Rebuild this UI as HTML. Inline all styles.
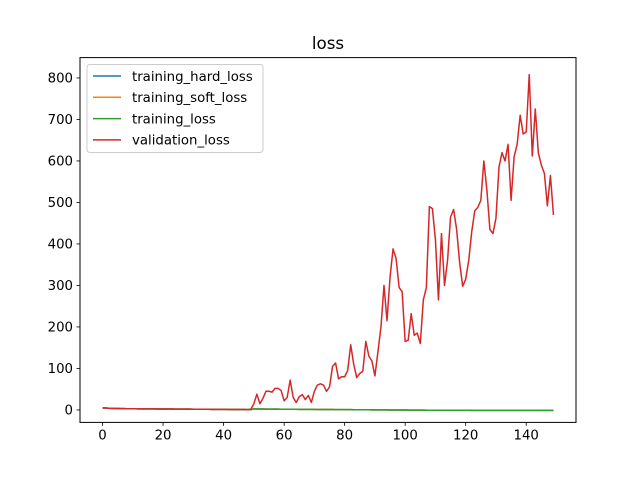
<!DOCTYPE html>
<html><head><meta charset="utf-8"><style>
body{margin:0;background:#fff}
svg{display:block;font-family:"DejaVu Sans","Liberation Sans",sans-serif}
</style></head><body>
<svg id="chart" width="640" height="480">
<rect width="640" height="480" fill="#fff"/>
<text x="328" y="49" font-size="16.7" text-anchor="middle">loss</text>
<g id="grid"></g>
<g id="lines"></g>
<rect x="80" y="57.6" width="496" height="364.8" fill="none" stroke="#000" stroke-width="1"/>
<g id="legend"></g>
</svg>
<script>
const trainingLoss = [
5,4.6,4.2,3.9,3.6,3.4,3.2,3.1,3,2.9,
2.8,2.75,2.7,2.65,2.6,2.55,2.5,2.45,2.4,2.35,
2.3,2.25,2.2,2.15,2.1,2.05,2,1.95,1.9,1.85,
1.8,1.75,1.7,1.65,1.6,1.55,1.5,1.45,1.4,1.35,
1.3,1.25,1.2,1.15,1.1,1.05,1,0.95,0.9,0.85,
2.5,2.4,2.3,2.2,2.1,2,1.95,1.9,1.85,1.8,
1.75,1.7,1.65,1.6,1.55,1.5,1.45,1.4,1.35,1.3,
1.25,1.2,1.15,1.1,1.05,1,0.95,0.9,0.85,0.8,
0.75,0.7,0.65,0.6,0.55,0.5,0.45,0.4,0.35,0.3,
0.25,0.2,0.15,0.1,0.05,0,-0.05,-0.1,-0.15,-0.2,
-0.25,-0.3,-0.35,-0.4,-0.45,-0.5,-0.55,-0.6,-0.62,-0.64,
-0.66,-0.68,-0.7,-0.72,-0.74,-0.76,-0.78,-0.8,-0.82,-0.84,
-0.86,-0.88,-0.9,-0.92,-0.94,-0.96,-0.98,-1,-1,-1,
-1,-1,-1,-1,-1,-1,-1,-1,-1,-1,
-1,-1,-1,-1,-1,-1,-1,-1,-1,-1];
const hardLoss = trainingLoss.slice();
const softLoss = trainingLoss.slice();
const validationLoss = [5,4.6,4.2,3.9,3.6,3.4,3.2,3.1,3,2.9,2.8,2.75,2.7,2.65,2.6,2.55,2.5,2.45,2.4,2.35,2.3,2.25,2.2,2.15,2.1,2.05,2,1.95,1.9,1.85,1.8,1.75,1.7,1.65,1.6,1.55,1.5,1.45,1.4,1.35,1.3,1.25,1.2,1.15,1.1,1.05,1,0.95,0.5,2,
15,38,15,28,45,45,43,52,52,47,22,30,72,30,18,32,37,25,35,18,45,60,63,60,45,55,105,113,75,80,80,95,157,110,78,88,93,165,130,118,82,140,200,300,215,320,388,365,295,285,165,168,232,180,185,160,265,295,490,485,410,265,425,300,360,465,483,435,355,298,315,360,430,480,488,505,600,530,435,425,462,585,620,600,640,505,610,640,710,665,670,808,612,725,620,590,570,492,565,470];
const xTicks = [0,20,40,60,80,100,120,140];
const yTicks = [0,100,200,300,400,500,600,700,800];
const seriesNames = ["training_hard_loss","training_soft_loss","training_loss","validation_loss"];
const seriesColors = ["#1f77b4","#ff7f0e","#2ca02c","#d62728"];

const NS="http://www.w3.org/2000/svg";
const X0=80,X1=576,Y0=57.6,Y1=422.4;
const xmin=-7.45,xmax=156.45,ymin=-30,ymax=849;
const xs=v=>X0+(v-xmin)/(xmax-xmin)*(X1-X0);
const ys=v=>Y1-(v-ymin)/(ymax-ymin)*(Y1-Y0);
function mk(t,a,p){const e=document.createElementNS(NS,t);for(const k in a)e.setAttribute(k,a[k]);p.appendChild(e);return e;}
const grid=document.getElementById('grid');
xTicks.forEach(t=>{
  const x=xs(t);
  const l=mk('line',{x1:x,x2:x,y1:Y1,y2:Y1+3.5,stroke:'#000','stroke-width':0.8},grid);
  
  
  const tx=mk('text',{x:x,y:Y1+17,'font-size':13.3,'text-anchor':'middle'},grid);tx.textContent=t;
  
  
});
yTicks.forEach(t=>{
  const y=ys(t);
  const l=mk('line',{x1:X0-3.5,x2:X0,y1:y,y2:y,stroke:'#000','stroke-width':0.8},grid);
  
  
  const tx=mk('text',{x:X0-7,y:y+4.8,'font-size':13.3,'text-anchor':'end'},grid);tx.textContent=t;
  
  
});
const lines=document.getElementById('lines');
[hardLoss,softLoss,trainingLoss,validationLoss].forEach((arr,i)=>{
  const pts=arr.map((v,k)=>xs(k).toFixed(2)+','+ys(v).toFixed(2)).join(' ');
  const p=mk('polyline',{points:pts,fill:'none',stroke:seriesColors[i],'stroke-width':1.5,'stroke-linejoin':'round'},lines);
  
  
});
const lg=document.getElementById('legend');
const box=mk('rect',{x:87,y:64.5,width:176,height:88,rx:3,fill:'#fff','fill-opacity':0.8,stroke:'#ccc'},lg);


seriesNames.forEach((n,i)=>{
  const y=76+i*21.3;
  const l=mk('line',{x1:93,x2:121,y1:y,y2:y,stroke:seriesColors[i],'stroke-width':1.5},lg);
  
  
  const t=mk('text',{x:132,y:y+4.8,'font-size':13.3},lg);t.textContent=n;
  
  
});
</script>
</body></html>
